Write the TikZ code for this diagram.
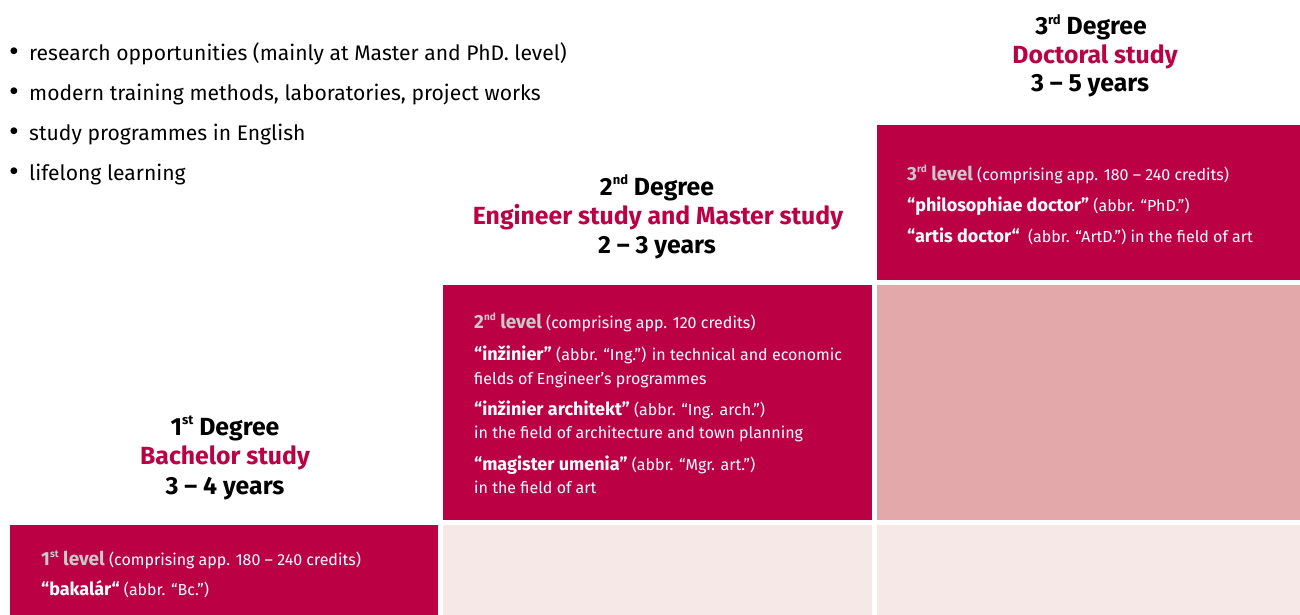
\documentclass[tikz,border=0pt]{standalone}
\usepackage{fontspec}
\setmainfont{Fira Sans}
\usepackage{xcolor}
\definecolor{crimson}{HTML}{BC0044}
\definecolor{rosa}{HTML}{E3A8AA}
\definecolor{pale}{HTML}{F7E8E8}
\definecolor{greylab}{HTML}{C9C9C9}
\def\hsup#1{\raisebox{0.42em}{\fontsize{13}{13}\selectfont #1}}
\def\nm#1{{\fontsize{18}{20}\selectfont\bfseries #1}}
\def\lv#1#2{{\color{greylab}\fontsize{19}{20}\selectfont\bfseries #1\raisebox{0.4em}{\fontsize{10}{10}\selectfont #2} level}}
\def\blt{\makebox[20pt][l]{\raisebox{-1pt}{\fontsize{30}{30}\selectfont\textbullet}}}

\begin{document}
\begin{tikzpicture}[x=1pt,y=-1pt,
  every node/.style={inner sep=0pt},
  item/.style={anchor=base west,font=\fontsize{21.1}{24}\selectfont},
  head/.style={anchor=base,font=\fontsize{24.8}{28}\selectfont\bfseries},
  sub/.style={head,text=crimson},
  btext/.style={anchor=base west,text=white,font=\fontsize{16}{20}\selectfont}]
\useasboundingbox (0,0) rectangle (1300,615);
% riquadri
   \fill[crimson] (10,525) rectangle (438,615);
   \fill[pale] (443,525) rectangle (872,615);
   \fill[pale] (877,525) rectangle (1300,615);
   \fill[crimson] (443,285) rectangle (872,520);
   \fill[rosa] (877,285) rectangle (1300,520);
   \fill[crimson] (877,125) rectangle (1300,280);
% elenco puntato
   \node[item] (it1) at (9,61) {\blt research opportunities (mainly at Master and PhD.\ level)};
   \node[item] (it2) at (9,101) {\blt modern training methods, laboratories, project works};
   \node[item] (it3) at (9,140) {\blt study programmes in English};
   \node[item] (it4) at (9,180) {\blt lifelong learning};
% grado 3
   \node[head] (d3) at (1091,35) {3\hsup{rd} Degree};
   \node[sub] (s3) at (1095,63.5) {Doctoral study};
   \node[head] (y3) at (1090,92) {3 -- 5 years};
% grado 2
   \node[head] (d2) at (657,195) {2\hsup{nd} Degree};
   \node[sub] (s2) at (658,224) {Engineer study and Master study};
   \node[head] (y2) at (657,253) {2 -- 3 years};
% grado 1
   \node[head] (d1) at (225,435) {1\hsup{st} Degree};
   \node[sub] (s1) at (225,464) {Bachelor study};
   \node[head] (y1) at (225,494) {3 -- 4 years};
% livello 3
   \node[btext] (l3a) at (907,180) {\lv{3}{rd} (comprising app. 180 -- 240 credits)};
   \node[btext] (l3b) at (907,211.5) {\nm{“philosophiae doctor”} (abbr. “PhD.”)};
   \node[btext] (l3c) at (907,242.5) {\nm{“artis doctor“}\ \ (abbr. “ArtD.”) in the field of art};
% livello 2
   \node[btext] (l2a) at (474,328) {\lv{2}{nd} (comprising app. 120 credits)};
   \node[btext] (l2b) at (474,360) {\nm{“inžinier”} (abbr. “Ing.”) in technical and economic};
   \node[btext] (l2c) at (474,384) {fields of Engineer’s programmes};
   \node[btext] (l2d) at (474,415) {\nm{“inžinier architekt”} (abbr. “Ing. arch.”)};
   \node[btext] (l2e) at (474,438) {in the field of architecture and town planning};
   \node[btext] (l2f) at (474,470) {\nm{“magister umenia”} (abbr. “Mgr. art.”)};
   \node[btext] (l2g) at (474,493) {in the field of art};
% livello 1
   \node[btext] (l1a) at (41,565) {\lv{1}{st} (comprising app. 180 -- 240 credits)};
   \node[btext] (l1b) at (41,595) {\nm{“bakalár“} (abbr. “Bc.”)};
\end{tikzpicture}
\end{document}
